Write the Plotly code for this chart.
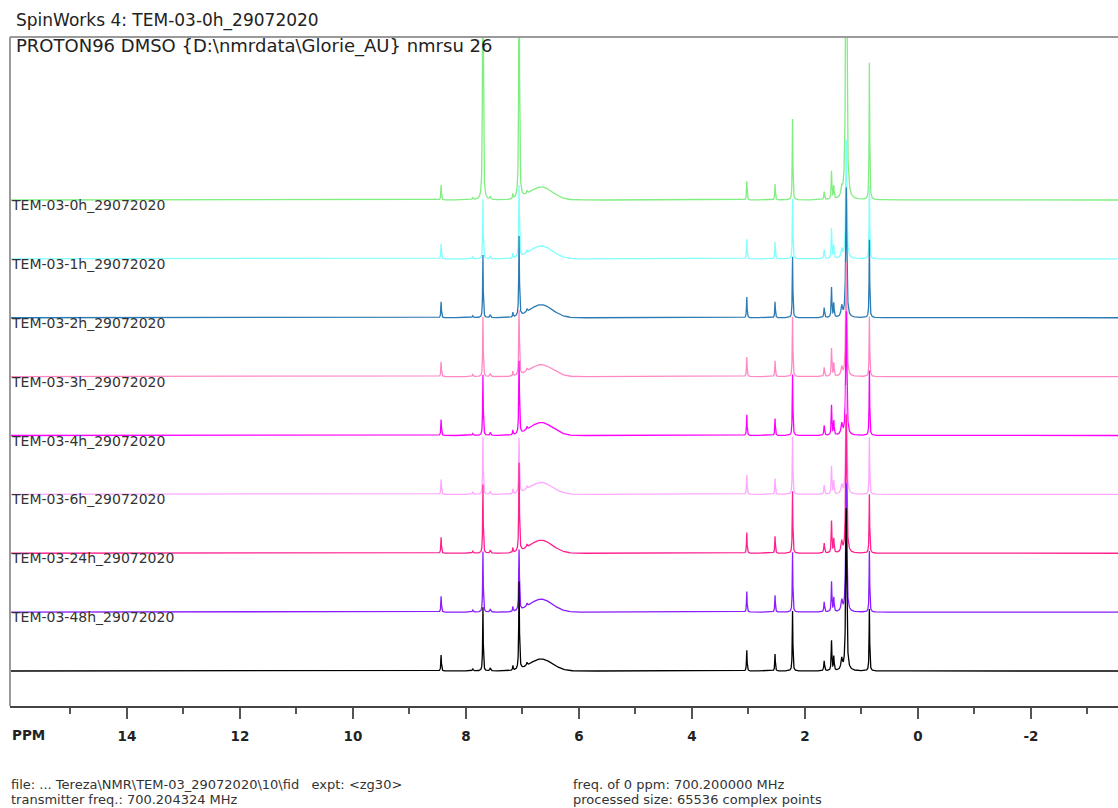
import numpy as np
import plotly.graph_objects as go

# ---- data ----
spectrum_names = ["TEM-03-0h_29072020", "TEM-03-1h_29072020", "TEM-03-2h_29072020",
                  "TEM-03-3h_29072020", "TEM-03-4h_29072020", "TEM-03-6h_29072020",
                  "TEM-03-24h_29072020", "TEM-03-48h_29072020", ""]
spectrum_colors = ["#80ee80", "#80ffff", "#2a7ab4", "#ff88c4", "#ff00ff",
                   "#ffa6ff", "#ff2090", "#8a1cff", "#000000"]

# peak positions (ppm) and line widths (FWHM, ppm)
peak_ppm = [8.44, 7.88, 7.70, 7.57, 7.17, 7.06, 6.92, 3.03, 2.53, 2.22,
            1.66, 1.53, 1.49, 1.35, 1.27, 0.86]
peak_fwhm = [0.012, 0.02, 0.012, 0.02, 0.012, 0.014, 0.02, 0.012, 0.012, 0.012,
             0.016, 0.014, 0.014, 0.03, 0.022, 0.012]

# peak heights (intensity units) for each spectrum, same order as spectrum_names
heights = [
    [15, 2, 400, 3, 5, 300, 3, 19, 16, 81, 8, 28, 13, 9, 400, 137],
    [15, 2, 60, 3, 5, 72, 3, 20, 17, 60, 9, 30, 13, 9, 120, 73],
    [16, 2, 63, 3, 5, 80, 3, 21, 16, 61, 10, 30, 14, 11, 131, 78],
    [15, 2, 60, 3, 5, 65, 3, 20, 16, 60, 9, 28, 13, 9, 115, 60],
    [16, 2, 61, 3, 5, 73, 3, 21, 17, 61, 10, 30, 14, 11, 125, 65],
    [15, 2, 58, 3, 5, 55, 3, 20, 16, 58, 9, 28, 13, 9, 110, 57],
    [16, 2, 69, 3, 5, 89, 3, 21, 17, 62, 10, 32, 14, 11, 140, 59],
    [16, 2, 61, 3, 5, 61, 3, 21, 17, 60, 10, 30, 14, 11, 130, 61],
    [16, 2, 64, 3, 5, 88, 3, 21, 17, 60, 10, 30, 14, 11, 164, 62],
]
# broad exchangeable hump
hump_ppm = 6.67
hump_sigma = 0.2
hump_heights = [13, 13, 13, 12, 13, 12, 13, 13, 12]

stack_offset = 58.875  # vertical spacing between stacked spectra

major_ticks = [14, 12, 10, 8, 6, 4, 2, 0, -2]
minor_ticks = [15, 13, 11, 9, 7, 5, 3, 1, -1, -3]

x_range = [16.07, -3.54]
y_range = [-35, 634]

# ---- build figure ----
ppm = np.linspace(16.2, -3.7, 9000)


def spectrum(hts, hump_h):
    y = np.zeros_like(ppm)
    for p, w, h in zip(peak_ppm, peak_fwhm, hts):
        g = (w / 2) ** 2
        y += h * g / ((ppm - p) ** 2 + g)
    y += hump_h * np.exp(-0.5 * ((ppm - hump_ppm) / hump_sigma) ** 2)
    return y


fig = go.Figure()
n = len(spectrum_names)
for i in range(n):
    off = (n - 1 - i) * stack_offset
    fig.add_trace(go.Scatter(
        x=ppm, y=spectrum(heights[i], hump_heights[i]) + off,
        mode="lines", line=dict(color=spectrum_colors[i], width=1.3),
        hoverinfo="skip", showlegend=False))
    if spectrum_names[i]:
        fig.add_annotation(x=-0.0012, xref="paper", y=off - 5, yref="y",
                           text=spectrum_names[i], showarrow=False,
                           xanchor="left", yanchor="middle",
                           font=dict(family="DejaVu Sans", size=14, color="#333333"))

txt = dict(family="DejaVu Sans", color="#222222")
fig.add_annotation(x=0.004, xref="paper", y=1.0254, yref="paper",
                   text="SpinWorks 4: TEM-03-0h_29072020", showarrow=False,
                   xanchor="left", yanchor="middle", font=dict(size=17, **txt))
fig.add_annotation(x=0.004, xref="paper", y=0.987, yref="paper",
                   text="PROTON96 DMSO {D:\\nmrdata\\Glorie_AU} nmrsu 26", showarrow=False,
                   xanchor="left", yanchor="middle", font=dict(size=18, **txt))
fig.add_annotation(x=0.0, xref="paper", y=-0.0433, yref="paper",
                   text="<b>PPM</b>", showarrow=False,
                   xanchor="left", yanchor="middle", font=dict(size=13.5, **txt))
foot = dict(family="DejaVu Sans", size=13, color="#333333")
for (xp, yp, t) in [(-0.0005, -0.118, "file: ... Tereza\\NMR\\TEM-03_29072020\\10\\fid &nbsp; expt: &lt;zg30&gt;"),
                    (-0.0005, -0.1405, "transmitter freq.: 700.204324 MHz"),
                    (0.506, -0.118, "freq. of 0 ppm: 700.200000 MHz"),
                    (0.506, -0.1405, "processed size: 65536 complex points")]:
    fig.add_annotation(x=xp, xref="paper", y=yp, yref="paper", text=t, showarrow=False,
                       xanchor="left", yanchor="middle", font=foot)

# box borders (top and left)
fig.add_shape(type="line", xref="paper", yref="paper", x0=0, x1=1.01, y0=1, y1=1,
              line=dict(color="#9a9a9a", width=2))
fig.add_shape(type="line", xref="paper", yref="paper", x0=0, x1=0, y0=0, y1=1,
              line=dict(color="#9a9a9a", width=2))

fig.update_xaxes(range=x_range, showgrid=False, zeroline=False,
                 showline=True, linecolor="#444444", linewidth=1.5,
                 ticks="outside", ticklen=11, tickwidth=1.5, tickcolor="#555555",
                 tickvals=major_ticks, ticktext=[str(v) for v in major_ticks],
                 tickfont=dict(family="DejaVu Sans", size=13.5, color="#222222", weight="bold"),
                 ticklabelstandoff=6,
                 minor=dict(tickvals=minor_ticks, ticklen=6, tickwidth=1.5, tickcolor="#555555",
                            ticks="outside"))
fig.update_yaxes(range=y_range, visible=False, showgrid=False, zeroline=False)

fig.update_layout(width=1118, height=808, plot_bgcolor="white", paper_bgcolor="white",
                  margin=dict(l=10, r=0, t=37, b=102), showlegend=False)

fig.write_html("out.html", config={"displayModeBar": False},
               post_script="document.body.style.margin='0';")
